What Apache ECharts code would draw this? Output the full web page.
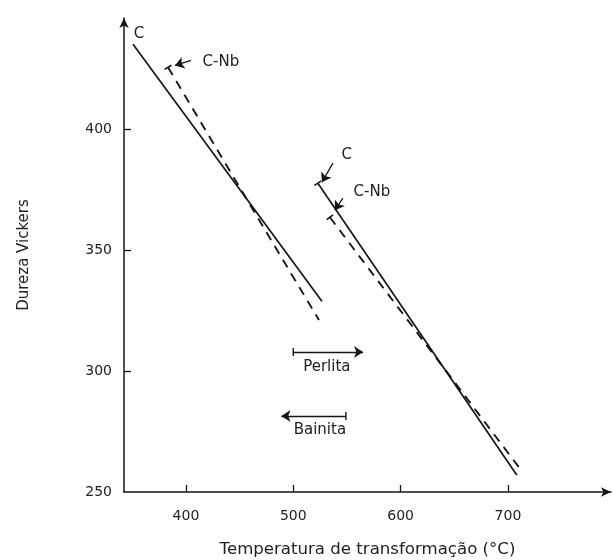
<!DOCTYPE html>
<html>
<head>
<meta charset="utf-8">
<script src="https://cdn.jsdelivr.net/npm/echarts@6/dist/echarts.min.js"></script>
<style>html,body{margin:0;padding:0;background:#fff}#c{width:613px;height:560px}</style>
</head>
<body>
<div id="c"></div>
<script>
// Data
const xTicks = [400, 500, 600, 700];
const yLabels = [250, 300, 350, 400];
const yTicks = [300, 350, 400];
const cBainita = [[350.7, 435.1], [526.7, 328.9]];
const cnbBainita = [[383.3, 425.6], [523.9, 321.1]];
const cPerlita = [[522.9, 377.7], [708.2, 257.0]];
const cnbPerlita = [[534.1, 363.6], [710.1, 260.3]];
const labelTexts = ['C', 'C-Nb', 'C', 'C-Nb', 'Perlita', 'Bainita'];
const labelPos = [[356.3, 439.3], [432.6, 427.7], [549.9, 389.3], [573.2, 374.0], [531.3, 301.7], [524.8, 275.6]];
const pointerStarts = [[404.7, 428.5], [536.9, 386.0], [546.2, 371.5]];
const pointerEnds = [[389.8, 426.4], [526.7, 378.1], [538.8, 366.5]];
const perlitaRange = [500, 565, 307.9];
const bainitaRange = [549, 489, 281.4];

const ink = '#161616';
const textInk = '#222222';
const font = 'DejaVu Sans';

function startTick(pt, rot) {
  return { value: pt, symbol: 'rect', symbolSize: [8, 1.6], symbolRotate: rot };
}

const chart = echarts.init(document.getElementById('c'));
chart.setOption({
  animation: false,
  backgroundColor: '#fff',
  grid: { left: 124, right: 2, top: 18, bottom: 68, containLabel: false, outerBoundsMode: 'none' },
  xAxis: {
    type: 'value', min: 342.3, max: 796,
    name: 'Temperatura de transformação (°C)',
    nameLocation: 'middle', nameGap: 49,
    nameTextStyle: { fontFamily: font, fontSize: 16.6, color: textInk },
    axisLine: { lineStyle: { color: ink, width: 1.5 }, symbol: ['none', 'arrow'], symbolSize: [7, 10] },
    axisTick: { inside: true, length: 7, customValues: xTicks, lineStyle: { color: ink, width: 1.3 } },
    axisLabel: { customValues: xTicks, margin: 17, fontFamily: font, fontSize: 14, color: textInk },
    splitLine: { show: false }
  },
  yAxis: {
    type: 'value', min: 250, max: 446,
    name: 'Dureza Vickers',
    nameLocation: 'middle', nameGap: 92,
    nameTextStyle: { fontFamily: font, fontSize: 15, color: textInk },
    axisLine: { show: true, lineStyle: { color: ink, width: 1.5 }, symbol: ['none', 'arrow'], symbolSize: [7, 10] },
    axisTick: { show: true, inside: true, length: 7, customValues: yTicks, lineStyle: { color: ink, width: 1.3 } },
    axisLabel: { customValues: yLabels, margin: 12, fontFamily: font, fontSize: 14, color: textInk },
    splitLine: { show: false }
  },
  series: [
    { type: 'line', data: cBainita, showSymbol: false, symbol: 'none', lineStyle: { color: ink, width: 1.7 } },
    { type: 'line', data: [startTick(cnbBainita[0], 31), cnbBainita[1]], symbol: 'none', showSymbol: true,
      itemStyle: { color: ink }, lineStyle: { color: ink, width: 1.9, type: [9, 7] } },
    { type: 'line', data: [startTick(cPerlita[0], 34), cPerlita[1]], symbol: 'none', showSymbol: true,
      itemStyle: { color: ink }, lineStyle: { color: ink, width: 1.7 } },
    { type: 'line', data: [startTick(cnbPerlita[0], 37), cnbPerlita[1]], symbol: 'none', showSymbol: true,
      itemStyle: { color: ink }, lineStyle: { color: ink, width: 1.9, type: [9, 7] } },
    {
      type: 'scatter', symbol: 'circle', symbolSize: 0, itemStyle: { color: '#000', opacity: 1 }, silent: true,
      data: labelTexts.map((t, i) => ({ name: t, value: labelPos[i] })),
      label: { show: true, position: 'inside', formatter: '{b}', fontFamily: font, fontSize: 15, color: textInk, opacity: 1 },
      markLine: {
        silent: true, animation: false,
        symbol: ['none', 'arrow'], symbolSize: 9,
        label: { show: false },
        lineStyle: { color: ink, width: 1.3, type: 'solid' },
        data: pointerStarts.map((s, i) => [{ coord: s }, { coord: pointerEnds[i] }]).concat([
          [{ coord: [perlitaRange[0], perlitaRange[2]], symbol: 'rect', symbolSize: [8, 1.4] },
           { coord: [perlitaRange[1], perlitaRange[2]], symbol: 'arrow' }],
          [{ coord: [bainitaRange[0], bainitaRange[2]], symbol: 'rect', symbolSize: [8, 1.4] },
           { coord: [bainitaRange[1], bainitaRange[2]], symbol: 'arrow' }]
        ])
      }
    }
  ]
});
</script>
</body>
</html>
